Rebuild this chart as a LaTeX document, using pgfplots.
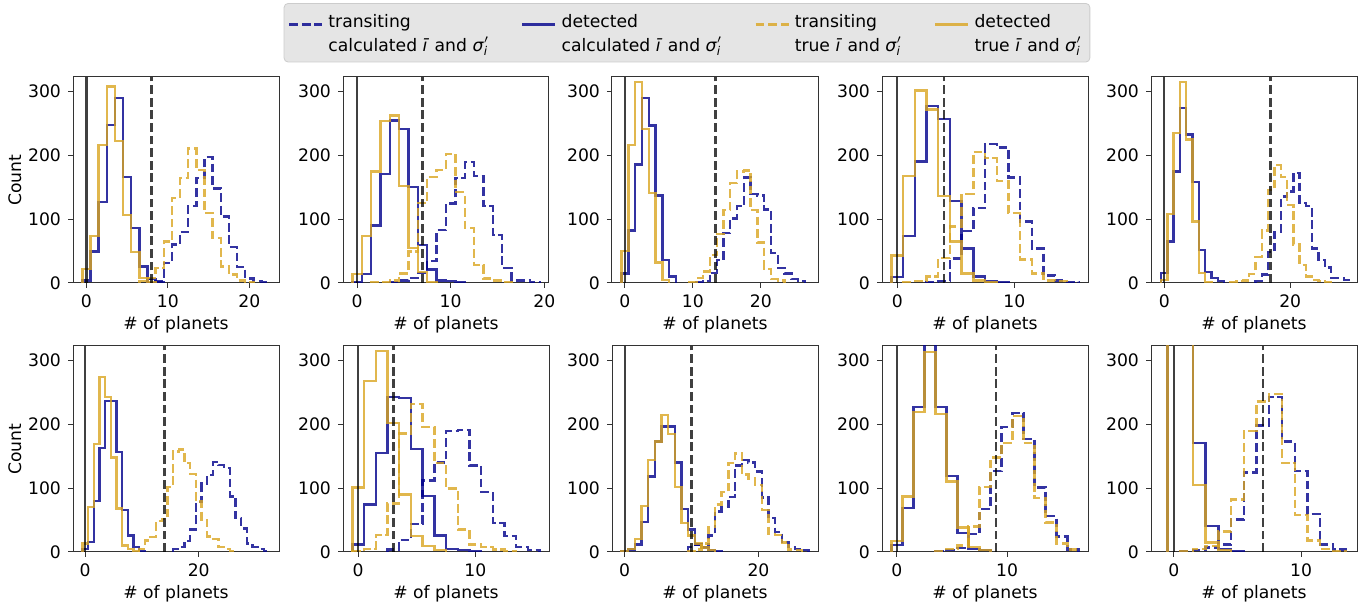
\documentclass[border=0pt]{standalone}
\usepackage{amsmath}
\usepackage{fontspec}
\setmainfont{DejaVu Sans}
\usepackage{pgfplots}
\pgfplotsset{compat=1.18}
\definecolor{cb}{HTML}{00008B}
\definecolor{cy}{HTML}{DAA520}
\newcommand{\fs}{\fontsize{8.6}{10}\selectfont}
\pgfplotsset{
  hist/.style={const plot mark left, mark=none, line width=1.2pt, draw opacity=0.8, forget plot},
  bd/.style={hist, color=cb, dash pattern=on 4.4pt off 1.9pt},
  bs/.style={hist, color=cb},
  yd/.style={hist, color=cy, dash pattern=on 4.4pt off 1.9pt},
  ys/.style={hist, color=cy},
  vz/.style={black, line width=1.2pt, draw opacity=0.75, mark=none, forget plot},
  vd/.style={vz, dash pattern=on 4.4pt off 1.9pt},
  panel/.style={scale only axis, width=103pt, height=103pt, anchor=south west,
    ymin=0, ymax=322, ytick={0,100,200,300},
    tick align=outside, xtick pos=left, ytick pos=left, major tick length=2.5pt,
    axis line style={black!80, line width=0.5pt}, tick style={black!80, line width=0.5pt},
    xlabel={\# of planets}, label style={font=\fs}, tick label style={font=\fs},
    xlabel style={yshift=2.5pt},
    ylabel style={at={(ticklabel cs:0.5,-3.5pt)}},
    /pgf/number format/assume math mode=true,
    legend image code/.code={\path[draw=none,fill=none] (0pt,-16.4pt) rectangle (16.5pt,6pt); \draw[##1] (0pt,0.8pt) -- (16.5pt,0.8pt);}},
}
\begin{document}
\begin{tikzpicture}
\path[use as bounding box] (0,0) rectangle (686pt,302.5pt);
% ---------- P1
\begin{axis}[panel, at={(36.5pt,161pt)}, xmin=-1.65, xmax=23.65, xtick={0,10,20}, ylabel={Count}]
\addplot[bd] coordinates {(7.5,0)(7.5,6)(8.5,3)(9.5,31)(10.5,60)(11.5,80)(12.5,120)(13.5,164)(14.5,197)(15.5,148)(16.5,104)(17.5,56)(18.5,25)(19.5,7)(20.5,3)(21.5,2)(22.5,0)};
\addplot[bs] coordinates {(-0.5,0)(-0.5,4)(0.5,49)(1.5,127)(2.5,247)(3.5,289)(4.5,166)(5.5,86)(6.5,26)(7.5,6)(8.5,2)(9.5,0)};
\addplot[yd] coordinates {(6.5,0)(6.5,3)(7.5,8)(8.5,23)(9.5,65)(10.5,133)(11.5,164)(12.5,210)(13.5,177)(14.5,109)(15.5,70)(16.5,26)(17.5,13)(18.5,4)(19.5,1)(20.5,0)};
\addplot[ys] coordinates {(-0.5,0)(-0.5,22)(0.5,73)(1.5,216)(2.5,307)(3.5,222)(4.5,106)(5.5,48)(6.5,8)(7.5,2)(8.5,0)};
\addplot[vz] coordinates {(0,0)(0,322)};
\addplot[vd] coordinates {(8,0)(8,322)};
\end{axis}
% ---------- P2
\begin{axis}[panel, at={(171.5pt,161pt)}, xmin=-1.5, xmax=20.5, xtick={0,10,20}]
\addplot[bd] coordinates {(3.5,0)(3.5,1)(4.5,4)(5.5,8)(6.5,16)(7.5,34)(8.5,83)(9.5,124)(10.5,164)(11.5,189)(12.5,167)(13.5,120)(14.5,75)(15.5,23)(16.5,4)(17.5,4)(18.5,1)(19.5,0)};
\addplot[bs] coordinates {(-0.5,0)(-0.5,1)(0.5,14)(1.5,90)(2.5,170)(3.5,254)(4.5,241)(5.5,150)(6.5,59)(7.5,21)(8.5,4)(9.5,3)(10.5,1)(11.5,0)};
\addplot[yd] coordinates {(1.5,0)(1.5,1)(2.5,2)(3.5,4)(4.5,15)(5.5,49)(6.5,125)(7.5,166)(8.5,177)(9.5,202)(10.5,142)(11.5,86)(12.5,28)(13.5,7)(14.5,4)(15.5,1)(16.5,0)};
\addplot[ys] coordinates {(-0.5,0)(-0.5,14)(0.5,73)(1.5,174)(2.5,253)(3.5,262)(4.5,152)(5.5,55)(6.5,17)(7.5,2)(8.5,0)};
\addplot[vz] coordinates {(0,0)(0,322)};
\addplot[vd] coordinates {(7,0)(7,322)};
\end{axis}
% ---------- P3 (with legend)
\begin{axis}[panel, at={(306pt,161pt)}, xmin=-1.9, xmax=28.4, xtick={0,10,20},
  legend columns=4,
  legend style={at={(0.364,1.359)}, anchor=north, fill=black!10, draw=black!20, rounded corners=2pt,
    font=\fontsize{8.6}{12}\selectfont, inner xsep=2pt, inner ysep=1.5pt,
    /tikz/every odd column/.append style={column sep=0.5pt},
    /tikz/every even column/.append style={column sep=14pt}}]
\addlegendimage{cb, line width=1.2pt, draw opacity=0.8, dash pattern=on 4.4pt off 1.9pt}
\addlegendentry{\begin{tabular}{@{}l@{}}transiting\\calculated \textit{ī} and \textit{σ}$'_{\text{\itshape i}}$\end{tabular}}
\addlegendimage{cb, line width=1.2pt, draw opacity=0.8}
\addlegendentry{\begin{tabular}{@{}l@{}}detected\\calculated \textit{ī} and \textit{σ}$'_{\text{\itshape i}}$\end{tabular}}
\addlegendimage{cy, line width=1.2pt, draw opacity=0.8, dash pattern=on 4.4pt off 1.9pt}
\addlegendentry{\begin{tabular}{@{}l@{}}transiting\\true \textit{ī} and \textit{σ}$'_{\text{\itshape i}}$\end{tabular}}
\addlegendimage{cy, line width=1.2pt, draw opacity=0.8}
\addlegendentry{\begin{tabular}{@{}l@{}}detected\\true \textit{ī} and \textit{σ}$'_{\text{\itshape i}}$\end{tabular}}
\addplot[bd] coordinates {(10.5,0)(10.5,1)(11.5,3)(12.5,16)(13.5,36)(14.5,78)(15.5,101)(16.5,120)(17.5,165)(18.5,139)(19.5,137)(20.5,115)(21.5,47)(22.5,23)(23.5,15)(24.5,6)(25.5,3)(26.5,0)};
\addplot[bs] coordinates {(-0.5,0)(-0.5,15)(0.5,82)(1.5,185)(2.5,289)(3.5,246)(4.5,137)(5.5,36)(6.5,10)(7.5,0)};
\addplot[yd] coordinates {(9.5,0)(9.5,1)(10.5,8)(11.5,18)(12.5,44)(13.5,77)(14.5,114)(15.5,156)(16.5,174)(17.5,176)(18.5,114)(19.5,63)(20.5,22)(21.5,6)(22.5,4)(23.5,0)};
\addplot[ys] coordinates {(-0.5,0)(-0.5,50)(0.5,216)(1.5,314)(2.5,241)(3.5,141)(4.5,32)(5.5,5)(6.5,0)};
\addplot[vz] coordinates {(0,0)(0,322)};
\addplot[vd] coordinates {(13.3,0)(13.3,322)};
\end{axis}
% ---------- P4
\begin{axis}[panel, at={(441pt,161pt)}, xmin=-1.3, xmax=16.3, xtick={0,10}]
\addplot[bd] coordinates {(2.5,0)(2.5,2)(3.5,3)(4.5,38)(5.5,81)(6.5,117)(7.5,217)(8.5,212)(9.5,165)(10.5,96)(11.5,54)(12.5,12)(13.5,4)(14.5,2)(15.5,0)};
\addplot[bs] coordinates {(-0.5,0)(-0.5,9)(0.5,73)(1.5,190)(2.5,277)(3.5,256)(4.5,128)(5.5,54)(6.5,10)(7.5,3)(8.5,1)(9.5,0)};
\addplot[yd] coordinates {(0.5,0)(0.5,1)(1.5,3)(2.5,10)(3.5,39)(4.5,88)(5.5,139)(6.5,205)(7.5,195)(8.5,159)(9.5,109)(10.5,37)(11.5,15)(12.5,4)(13.5,3)(14.5,0)};
\addplot[ys] coordinates {(-0.5,0)(-0.5,43)(0.5,167)(1.5,301)(2.5,271)(3.5,136)(4.5,65)(5.5,15)(6.5,4)(7.5,1)(8.5,0)};
\addplot[vz] coordinates {(0,0)(0,322)};
\addplot[vd] coordinates {(4,0)(4,322)};
\end{axis}
% ---------- P5
\begin{axis}[panel, at={(575.5pt,161pt)}, xmin=-2.1, xmax=30.6, xtick={0,20}]
\addplot[bd] coordinates {(14.5,0)(14.5,3)(15.5,13)(16.5,48)(17.5,80)(18.5,135)(19.5,143)(20.5,172)(21.5,125)(22.5,120)(23.5,54)(24.5,36)(25.5,24)(26.5,8)(27.5,8)(28.5,5)(29.5,0)};
\addplot[bs] coordinates {(-0.5,0)(-0.5,16)(0.5,65)(1.5,174)(2.5,274)(3.5,232)(4.5,158)(5.5,52)(6.5,17)(7.5,8)(8.5,3)(9.5,0)};
\addplot[yd] coordinates {(10.5,0)(10.5,1)(11.5,3)(12.5,4)(13.5,14)(14.5,41)(15.5,82)(16.5,145)(17.5,184)(18.5,166)(19.5,122)(20.5,60)(21.5,28)(22.5,10)(23.5,5)(24.5,3)(25.5,1)(26.5,0)};
\addplot[ys] coordinates {(-0.5,0)(-0.5,5)(0.5,108)(1.5,234)(2.5,314)(3.5,224)(4.5,96)(5.5,16)(6.5,2)(7.5,0)};
\addplot[vz] coordinates {(0,0)(0,322)};
\addplot[vd] coordinates {(16.85,0)(16.85,322)};
\end{axis}
% ---------- P6
\begin{axis}[panel, at={(36.5pt,26.5pt)}, xmin=-2.15, xmax=34.15, xtick={0,20}, ylabel={Count}]
\addplot[bd] coordinates {(15.5,0)(15.5,5)(16.5,8)(17.5,17)(18.5,35)(19.5,78)(20.5,107)(21.5,120)(22.5,141)(23.5,136)(24.5,131)(25.5,87)(26.5,53)(27.5,37)(28.5,13)(29.5,8)(30.5,5)(31.5,2)(32.5,0)};
\addplot[bs] coordinates {(-0.5,0)(-0.5,5)(0.5,16)(1.5,80)(2.5,163)(3.5,236)(4.5,236)(5.5,156)(6.5,66)(7.5,26)(8.5,8)(9.5,2)(10.5,0)};
\addplot[yd] coordinates {(9.5,0)(9.5,5)(10.5,18)(11.5,23)(12.5,48)(13.5,52)(14.5,102)(15.5,157)(16.5,160)(17.5,139)(18.5,122)(19.5,79)(20.5,50)(21.5,24)(22.5,20)(23.5,8)(24.5,5)(25.5,2)(26.5,0)};
\addplot[ys] coordinates {(-0.5,0)(-0.5,13)(0.5,70)(1.5,169)(2.5,274)(3.5,242)(4.5,148)(5.5,68)(6.5,10)(7.5,5)(8.5,2)(9.5,0)};
\addplot[vz] coordinates {(0,0)(0,322)};
\addplot[vd] coordinates {(14,0)(14,322)};
\end{axis}
% ---------- P7
\begin{axis}[panel, at={(171.5pt,26.5pt)}, xmin=-1.3, xmax=16.3, xtick={0,10}]
\addplot[bd] coordinates {(2.5,0)(2.5,4)(3.5,19)(4.5,44)(5.5,112)(6.5,140)(7.5,189)(8.5,191)(9.5,135)(10.5,94)(11.5,45)(12.5,25)(13.5,8)(14.5,3)(15.5,0)};
\addplot[bs] coordinates {(-0.5,0)(-0.5,12)(0.5,74)(1.5,155)(2.5,242)(3.5,241)(4.5,161)(5.5,88)(6.5,26)(7.5,5)(8.5,3)(9.5,1)(10.5,0)};
\addplot[yd] coordinates {(-0.5,0)(-0.5,1)(0.5,5)(1.5,27)(2.5,76)(3.5,185)(4.5,231)(5.5,195)(6.5,139)(7.5,99)(8.5,35)(9.5,12)(10.5,8)(11.5,4)(12.5,2)(13.5,0)};
\addplot[ys] coordinates {(-0.5,0)(-0.5,101)(0.5,267)(1.5,314)(2.5,202)(3.5,90)(4.5,25)(5.5,9)(6.5,3)(7.5,0)};
\addplot[vz] coordinates {(0,0)(0,322)};
\addplot[vd] coordinates {(3,0)(3,322)};
\end{axis}
% ---------- P8
\begin{axis}[panel, at={(306pt,26.5pt)}, xmin=-1.9, xmax=28.9, xtick={0,20}]
\addplot[bd] coordinates {(9.5,0)(9.5,8)(10.5,12)(11.5,8)(12.5,26)(13.5,63)(14.5,70)(15.5,86)(16.5,135)(17.5,144)(18.5,140)(19.5,126)(20.5,85)(21.5,53)(22.5,31)(23.5,16)(24.5,8)(25.5,5)(26.5,3)(27.5,0)};
\addplot[bs] coordinates {(-0.5,0)(-0.5,2)(0.5,4)(1.5,12)(2.5,47)(3.5,118)(4.5,173)(5.5,196)(6.5,196)(7.5,140)(8.5,67)(9.5,35)(10.5,12)(11.5,7)(12.5,3)(13.5,1)(14.5,0)};
\addplot[yd] coordinates {(9.5,0)(9.5,2)(10.5,4)(11.5,13)(12.5,39)(13.5,74)(14.5,94)(15.5,139)(16.5,154)(17.5,121)(18.5,115)(19.5,105)(20.5,66)(21.5,28)(22.5,27)(23.5,15)(24.5,4)(25.5,3)(26.5,0)};
\addplot[ys] coordinates {(-0.5,0)(-0.5,2)(0.5,5)(1.5,20)(2.5,72)(3.5,144)(4.5,173)(5.5,214)(6.5,184)(7.5,102)(8.5,45)(9.5,26)(10.5,13)(11.5,7)(12.5,3)(13.5,0)};
\addplot[vz] coordinates {(0,0)(0,322)};
\addplot[vd] coordinates {(10,0)(10,322)};
\end{axis}
% ---------- P9
\begin{axis}[panel, at={(441pt,26.5pt)}, xmin=-1.35, xmax=17.35, xtick={0,10}]
\addplot[bd] coordinates {(3.5,0)(3.5,1)(4.5,3)(5.5,6)(6.5,28)(7.5,67)(8.5,127)(9.5,195)(10.5,217)(11.5,177)(12.5,101)(13.5,56)(14.5,24)(15.5,4)(16.5,0)};
\addplot[bs] coordinates {(-0.5,0)(-0.5,11)(0.5,69)(1.5,227)(2.5,340)(3.5,227)(4.5,119)(5.5,30)(6.5,5)(7.5,3)(8.5,0)};
\addplot[yd] coordinates {(3.5,0)(3.5,2)(4.5,5)(5.5,10)(6.5,40)(7.5,102)(8.5,148)(9.5,170)(10.5,213)(11.5,170)(12.5,84)(13.5,46)(14.5,13)(15.5,4)(16.5,0)};
\addplot[ys] coordinates {(-0.5,0)(-0.5,17)(0.5,87)(1.5,219)(2.5,313)(3.5,216)(4.5,110)(5.5,38)(6.5,8)(7.5,3)(8.5,0)};
\addplot[vz] coordinates {(0,0)(0,322)};
\addplot[vd] coordinates {(9,0)(9,322)};
\end{axis}
% ---------- P10
\begin{axis}[panel, at={(575.5pt,26.5pt)}, xmin=-1.8, xmax=14.4, xtick={0,10}]
\addplot[bd] coordinates {(0.5,0)(0.5,1)(1.5,3)(2.5,7)(3.5,12)(4.5,51)(5.5,124)(6.5,198)(7.5,242)(8.5,173)(9.5,127)(10.5,59)(11.5,12)(12.5,4)(13.5,0)};
\addplot[bs] coordinates {(-0.5,0)(-0.5,450)(0.5,400)(1.5,170)(2.5,41)(3.5,5)(4.5,2)(5.5,0)};
\addplot[yd] coordinates {(0.5,0)(0.5,1)(1.5,5)(2.5,9)(3.5,32)(4.5,82)(5.5,189)(6.5,235)(7.5,247)(8.5,139)(9.5,58)(10.5,18)(11.5,5)(12.5,2)(13.5,0)};
\addplot[ys] coordinates {(-0.5,0)(-0.5,450)(0.5,400)(1.5,105)(2.5,15)(3.5,3)(4.5,0)};
\addplot[vz] coordinates {(0,0)(0,322)};
\addplot[vd] coordinates {(7,0)(7,322)};
\end{axis}
\end{tikzpicture}
\end{document}
